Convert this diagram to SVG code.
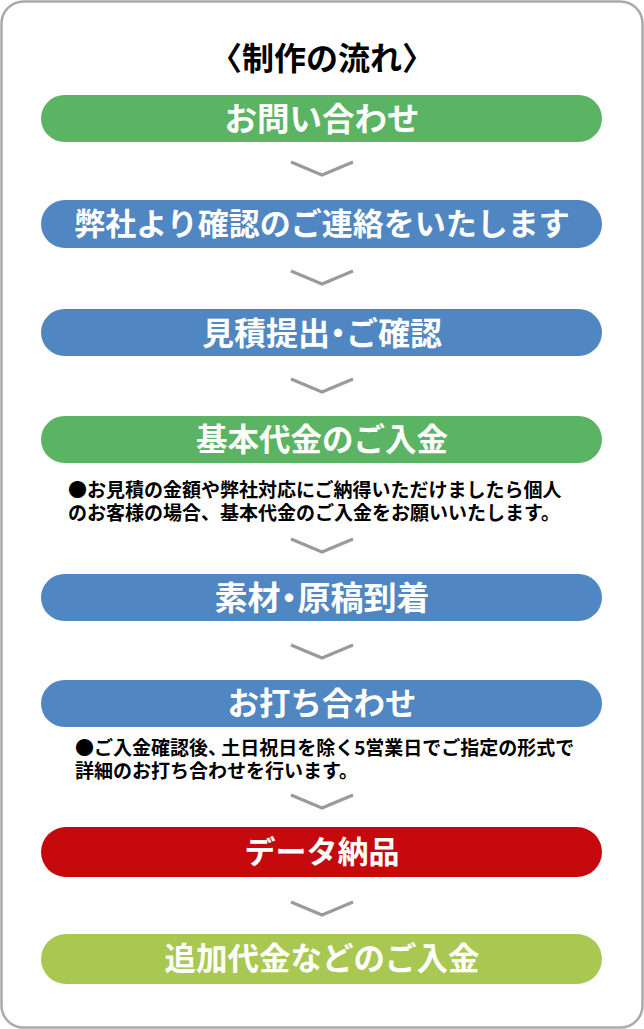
<svg xmlns="http://www.w3.org/2000/svg" width="644" height="1029" viewBox="0 0 644 1029">
<style>
.pill text{font-family:"Noto Sans CJK JP","Noto Sans",sans-serif;font-weight:700;font-size:31px;fill:#fff;text-anchor:middle}
.title{font-family:"Noto Sans CJK JP","Noto Sans",sans-serif;font-weight:700;font-size:32px;fill:#000;text-anchor:middle}
.note{font-family:"Noto Sans CJK JP","Noto Sans",sans-serif;font-weight:700;font-size:19px;fill:#000}
.chev{fill:none;stroke:#9a9a9a;stroke-width:3}
.g{fill:#5bb464}.b{fill:#5086c1}.r{fill:#c5090c}.lg{fill:#a9c852}
</style>
<rect x="1.5" y="1.5" width="641" height="1026" rx="22" fill="#fff" stroke="#aaa" stroke-width="2.5"/>
<text class="title" x="322" y="70">〈制作の流れ〉</text>
<g id="n1" class="pill"><rect class="g" x="41" y="95" width="561" height="47" rx="23.5"/><text x="322" y="131" style="font-size:32.5px">お問い合わせ</text></g>
<g id="n2" class="pill"><rect class="b" x="41" y="200" width="561" height="48" rx="24"/><text x="322" y="235">弊社より確認のご連絡をいたします</text></g>
<g id="n3" class="pill"><rect class="b" x="41" y="309" width="561" height="47" rx="23.5"/><text x="322" y="345" dx="0 0 0 0 -8 -8" style="font-size:32px">見積提出・ご確認</text></g>
<g id="n4" class="pill"><rect class="g" x="41" y="416" width="561" height="47" rx="23.5"/><text x="322" y="451" style="font-size:31.5px">基本代金のご入金</text></g>
<g id="note1"><text class="note" x="68" y="497">●お見積の金額や弊社対応にご納得いただけましたら個人</text><text class="note" x="68" y="520">のお客様の場合、基本代金のご入金をお願いいたします。</text></g>
<g id="n5" class="pill"><rect class="b" x="41" y="574" width="561" height="47" rx="23.5"/><text x="322" y="610" dx="0 0 -8 -8" style="font-size:33px">素材・原稿到着</text></g>
<g id="n6" class="pill"><rect class="b" x="41" y="680" width="561" height="47" rx="23.5"/><text x="322" y="715" style="font-size:31.5px">お打ち合わせ</text></g>
<g id="note2"><text class="note" x="75" y="755" dx="0 0 0 0 0 0 0 0 -6">●ご入金確認後、土日祝日を除く5営業日でご指定の形式で</text><text class="note" x="75" y="778">詳細のお打ち合わせを行います。</text></g>
<g id="n7" class="pill"><rect class="r" x="41" y="827" width="561" height="50" rx="25"/><text x="322" y="863">データ納品</text></g>
<g id="n8" class="pill"><rect class="lg" x="41" y="934" width="561" height="50" rx="25"/><text x="322" y="970" style="font-size:31.5px">追加代金などのご入金</text></g>
<g id="connectors">
<polyline class="chev" points="291,162 322,175 353,162"/>
<polyline class="chev" points="291,271 322,284 353,271"/>
<polyline class="chev" points="291,379 322,392 353,379"/>
<polyline class="chev" points="291,539 322,552 353,539"/>
<polyline class="chev" points="291,645 322,658 353,645"/>
<polyline class="chev" points="291,795 322,808 353,795"/>
<polyline class="chev" points="291,902 322,915 353,902"/>
</g>
</svg>
